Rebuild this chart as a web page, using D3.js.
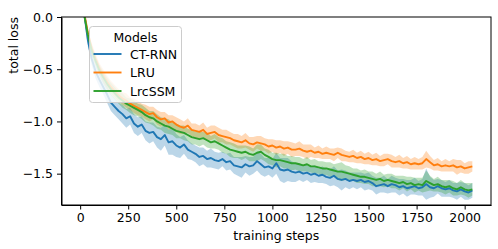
<!DOCTYPE html>
<html>
<head>
<meta charset="utf-8">
<script src="https://cdn.jsdelivr.net/npm/d3@7"></script>
<style>
  body { margin: 0; background: #fff; }
  svg { display: block; font-family: "DejaVu Sans", sans-serif; }
</style>
</head>
<body>
<div id="chart"></div>
<script>

var models = ["CT-RNN", "LRU", "LrcSSM"]
var colors = ["#1f77b4", "#ff7f0e", "#2ca02c"]

// training steps, sampled every 20 steps
var steps = d3.range(0, 2041, 20)

var ctrnnLoss = [
  0.90, 0.05, -0.22, -0.40, -0.52, -0.60, -0.67, -0.74, -0.82, -0.86,
  -0.90, -0.93, -0.97, -0.95, -1.02, -1.05, -1.03, -1.09, -1.11, -1.10,
  -1.15, -1.17, -1.13, -1.20, -1.19, -1.23, -1.25, -1.22, -1.27, -1.29,
  -1.31, -1.34, -1.33, -1.36, -1.35, -1.37, -1.38, -1.36, -1.39, -1.38,
  -1.42, -1.43, -1.44, -1.41, -1.43, -1.42, -1.38, -1.41, -1.44, -1.43,
  -1.45, -1.40, -1.46, -1.47, -1.46, -1.48, -1.49, -1.48, -1.50, -1.49,
  -1.51, -1.50, -1.52, -1.51, -1.53, -1.54, -1.52, -1.55, -1.56, -1.55,
  -1.57, -1.56, -1.57, -1.56, -1.58, -1.57, -1.59, -1.62, -1.61, -1.60,
  -1.62, -1.60, -1.61, -1.63, -1.62, -1.64, -1.63, -1.62, -1.64, -1.63,
  -1.60, -1.63, -1.64, -1.62, -1.64, -1.65, -1.64, -1.66, -1.67, -1.65,
  -1.67, -1.68, -1.66
]
var lruLoss = [
  0.90, 0.05, -0.15, -0.30, -0.40, -0.49, -0.56, -0.62, -0.67, -0.71,
  -0.75, -0.78, -0.80, -0.83, -0.85, -0.87, -0.89, -0.91, -0.93, -0.92,
  -0.96, -0.98, -0.97, -1.01, -1.00, -1.03, -1.05, -1.06, -1.04, -1.08,
  -1.09, -1.10, -1.08, -1.12, -1.11, -1.10, -1.13, -1.14, -1.15, -1.16,
  -1.18, -1.19, -1.20, -1.18, -1.21, -1.22, -1.20, -1.21, -1.22, -1.24,
  -1.23, -1.25, -1.24, -1.26, -1.25, -1.27, -1.27, -1.26, -1.28, -1.29,
  -1.28, -1.30, -1.29, -1.31, -1.30, -1.31, -1.32, -1.30, -1.32, -1.33,
  -1.34, -1.33, -1.35, -1.34, -1.36, -1.35, -1.37, -1.36, -1.38, -1.37,
  -1.36, -1.38, -1.39, -1.38, -1.40, -1.39, -1.41, -1.40, -1.41, -1.40,
  -1.36, -1.39, -1.42, -1.41, -1.43, -1.42, -1.43, -1.42, -1.44, -1.43,
  -1.45, -1.44, -1.43
]
var lrcssmLoss = [
  0.90, 0.03, -0.17, -0.32, -0.42, -0.51, -0.58, -0.64, -0.69, -0.73,
  -0.77, -0.80, -0.83, -0.85, -0.87, -0.89, -0.91, -0.94, -0.96, -0.97,
  -1.00, -1.02, -1.04, -1.05, -1.07, -1.09, -1.10, -1.11, -1.13, -1.15,
  -1.16, -1.17, -1.16, -1.18, -1.20, -1.19, -1.21, -1.23, -1.25, -1.27,
  -1.28, -1.29, -1.30, -1.29, -1.31, -1.32, -1.30, -1.29, -1.32, -1.34,
  -1.36, -1.37, -1.37, -1.38, -1.39, -1.40, -1.40, -1.41, -1.42, -1.41,
  -1.43, -1.43, -1.44, -1.45, -1.45, -1.46, -1.47, -1.48, -1.48, -1.49,
  -1.50, -1.51, -1.52, -1.53, -1.53, -1.54, -1.55, -1.56, -1.55, -1.57,
  -1.56, -1.57, -1.58, -1.59, -1.58, -1.60, -1.59, -1.61, -1.60, -1.61,
  -1.57, -1.59, -1.61, -1.60, -1.62, -1.63, -1.62, -1.64, -1.65, -1.63,
  -1.65, -1.66, -1.65
]

// half width of the shaded band
var ctrnnSpread = [
  0.04, 0.05, 0.06, 0.06, 0.07, 0.07, 0.07, 0.08, 0.08, 0.08,
  0.08, 0.09, 0.09, 0.08, 0.09, 0.09, 0.08, 0.09, 0.10, 0.09,
  0.10, 0.11, 0.10, 0.12, 0.13, 0.11, 0.10, 0.09, 0.09, 0.08,
  0.08, 0.09, 0.08, 0.08, 0.09, 0.08, 0.08, 0.07, 0.08, 0.08,
  0.08, 0.09, 0.10, 0.08, 0.09, 0.08, 0.09, 0.10, 0.09, 0.08,
  0.09, 0.10, 0.11, 0.12, 0.11, 0.10, 0.09, 0.08, 0.08, 0.07,
  0.08, 0.08, 0.07, 0.08, 0.07, 0.08, 0.09, 0.08, 0.10, 0.08,
  0.08, 0.07, 0.08, 0.07, 0.08, 0.08, 0.07, 0.08, 0.07, 0.08,
  0.07, 0.08, 0.07, 0.08, 0.07, 0.08, 0.07, 0.08, 0.07, 0.08,
  0.15, 0.10, 0.08, 0.07, 0.08, 0.07, 0.08, 0.07, 0.08, 0.07,
  0.08, 0.07, 0.07
]
var lruSpread = [
  0.03, 0.04, 0.04, 0.05, 0.05, 0.05, 0.06, 0.06, 0.06, 0.06,
  0.06, 0.06, 0.07, 0.06, 0.07, 0.07, 0.06, 0.07, 0.07, 0.06,
  0.07, 0.07, 0.06, 0.07, 0.06, 0.07, 0.07, 0.06, 0.07, 0.06,
  0.07, 0.06, 0.07, 0.06, 0.07, 0.06, 0.07, 0.06, 0.07, 0.06,
  0.06, 0.07, 0.06, 0.07, 0.06, 0.07, 0.06, 0.07, 0.06, 0.07,
  0.06, 0.07, 0.06, 0.07, 0.06, 0.07, 0.06, 0.07, 0.06, 0.07,
  0.06, 0.05, 0.06, 0.05, 0.06, 0.05, 0.06, 0.05, 0.06, 0.05,
  0.05, 0.06, 0.05, 0.06, 0.05, 0.06, 0.05, 0.06, 0.05, 0.06,
  0.05, 0.06, 0.05, 0.06, 0.05, 0.06, 0.05, 0.06, 0.05, 0.06,
  0.08, 0.06, 0.05, 0.06, 0.05, 0.06, 0.05, 0.06, 0.07, 0.06,
  0.05, 0.06, 0.05
]
var lrcssmSpread = [
  0.03, 0.04, 0.04, 0.05, 0.05, 0.05, 0.06, 0.06, 0.06, 0.06,
  0.06, 0.07, 0.06, 0.07, 0.07, 0.06, 0.07, 0.07, 0.06, 0.07,
  0.07, 0.06, 0.07, 0.07, 0.06, 0.07, 0.06, 0.07, 0.06, 0.07,
  0.06, 0.07, 0.06, 0.07, 0.06, 0.07, 0.06, 0.07, 0.06, 0.07,
  0.07, 0.06, 0.07, 0.06, 0.07, 0.06, 0.08, 0.07, 0.06, 0.07,
  0.06, 0.07, 0.06, 0.07, 0.06, 0.07, 0.06, 0.07, 0.06, 0.07,
  0.06, 0.07, 0.06, 0.07, 0.06, 0.07, 0.06, 0.08, 0.09, 0.07,
  0.07, 0.06, 0.07, 0.06, 0.07, 0.06, 0.07, 0.06, 0.07, 0.06,
  0.06, 0.07, 0.06, 0.07, 0.06, 0.07, 0.06, 0.07, 0.06, 0.07,
  0.10, 0.07, 0.06, 0.07, 0.06, 0.07, 0.06, 0.07, 0.06, 0.07,
  0.06, 0.07, 0.06
]

var xTicks = [0, 250, 500, 750, 1000, 1250, 1500, 1750, 2000]
var yTicks = [0, -0.5, -1.0, -1.5]

var losses = [ctrnnLoss, lruLoss, lrcssmLoss]
var spreads = [ctrnnSpread, lruSpread, lrcssmSpread]

var width = 498, height = 249
var margin = {top: 17, right: 7, bottom: 44, left: 61.5}

var svg = d3.select("#chart").append("svg")
    .attr("width", width)
    .attr("height", height)

var x = d3.scaleLinear()
    .domain([-97, 2137])
    .range([margin.left, width - margin.right])

var y = d3.scaleLinear()
    .domain([-1.8, 0])
    .range([height - margin.bottom, margin.top])

svg.append("clipPath")
    .attr("id", "plot-clip")
    .append("rect")
    .attr("x", margin.left)
    .attr("y", margin.top)
    .attr("width", width - margin.left - margin.right)
    .attr("height", height - margin.top - margin.bottom)

var series = models.map(function(name, i){
    return {
        name: name,
        color: colors[i],
        points: steps.map(function(s, j){
            return {step: s, loss: losses[i][j], spread: spreads[i][j]}
        })
    }
})

var plot = svg.append("g").attr("clip-path", "url(#plot-clip)")

var band = d3.area()
    .x(function(d){ return x(d.step) })
    .y0(function(d){ return y(d.loss - d.spread) })
    .y1(function(d){ return y(d.loss + d.spread) })

var line = d3.line()
    .x(function(d){ return x(d.step) })
    .y(function(d){ return y(d.loss) })

plot.selectAll(".band")
    .data(series)
    .enter()
    .append("path")
    .attr("class", "band")
    .attr("d", function(d){ return band(d.points) })
    .attr("fill", function(d){ return d.color })
    .attr("fill-opacity", 0.3)

plot.selectAll(".line")
    .data(series)
    .enter()
    .append("path")
    .attr("class", "line")
    .attr("d", function(d){ return line(d.points) })
    .attr("fill", "none")
    .attr("stroke", function(d){ return d.color })
    .attr("stroke-width", 1.9)
    .attr("stroke-linejoin", "round")

// axes
svg.append("g")
    .attr("transform", "translate(0," + (height - margin.bottom) + ")")
    .call(d3.axisBottom(x).tickValues(xTicks).tickSize(4.5).tickPadding(4).tickSizeOuter(0)
        .tickFormat(d3.format("d")))

svg.append("g")
    .attr("transform", "translate(" + margin.left + ",0)")
    .call(d3.axisLeft(y).tickValues(yTicks).tickSize(4.5).tickPadding(4).tickSizeOuter(0)
        .tickFormat(function(d){ return d3.format(".1f")(d).replace("-", "\u2212") }))

svg.selectAll(".tick text")
    .attr("font-size", 12.5)
    .attr("font-family", "DejaVu Sans")
    .attr("fill", "#000")

svg.selectAll(".domain, .tick line").attr("stroke", "#000").attr("stroke-width", 1)

// frame
svg.append("rect")
    .attr("x", margin.left)
    .attr("y", margin.top)
    .attr("width", width - margin.left - margin.right)
    .attr("height", height - margin.top - margin.bottom)
    .attr("fill", "none")
    .attr("stroke", "#000")
    .attr("stroke-width", 1)

svg.append("text")
    .attr("x", (margin.left + width - margin.right) / 2)
    .attr("y", 240)
    .attr("text-anchor", "middle")
    .attr("font-size", 12.5)
    .text("training steps")

svg.append("text")
    .attr("transform", "translate(18," + margin.top + ") rotate(-90)")
    .attr("text-anchor", "end")
    .attr("font-size", 12.5)
    .text("total loss")

// legend
var legend = svg.append("g").attr("transform", "translate(89.5,26.5)")

legend.append("rect")
    .attr("width", 92)
    .attr("height", 76)
    .attr("rx", 3)
    .attr("fill", "#fff")
    .attr("fill-opacity", 0.8)
    .attr("stroke", "#ccc")
    .attr("stroke-width", 1)

legend.append("text")
    .attr("x", 46)
    .attr("y", 15)
    .attr("text-anchor", "middle")
    .attr("font-size", 12.5)
    .text("Models")

var entries = legend.selectAll(".entry")
    .data(series)
    .enter()
    .append("g")
    .attr("class", "entry")
    .attr("transform", function(d, i){ return "translate(0," + (27.5 + i * 18.5) + ")" })

entries.append("line")
    .attr("x1", 4)
    .attr("x2", 32)
    .attr("stroke", function(d){ return d.color })
    .attr("stroke-width", 1.9)

entries.append("text")
    .attr("x", 40.5)
    .attr("y", 4.5)
    .attr("font-size", 12.5)
    .text(function(d){ return d.name })

</script>
</body>
</html>
